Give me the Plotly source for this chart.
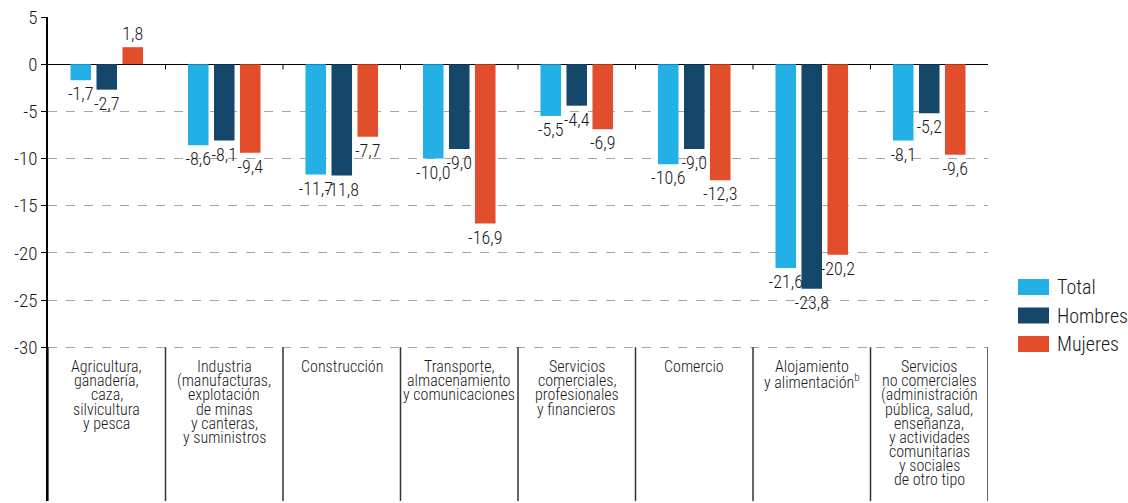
import plotly.graph_objects as go

categories = [
    ["Agricultura,", "ganadería,", "caza,", "silvicultura", "y pesca"],
    ["Industria", "(manufacturas,", "explotación", "de minas", "y canteras,", "y suministros"],
    ["Construcción"],
    ["Transporte,", "almacenamiento", "y comunicaciones"],
    ["Servicios", "comerciales,", "profesionales", "y financieros"],
    ["Comercio"],
    ["Alojamiento", "y alimentación<sup>b</sup>"],
    ["Servicios", "no comerciales", "(administración", "pública, salud,", "enseñanza,", "y actividades",
     "comunitarias", "y sociales", "de otro tipo"],
]
total = [-1.7, -8.6, -11.7, -10.0, -5.5, -10.6, -21.6, -8.1]
hombres = [-2.7, -8.1, -11.8, -9.0, -4.4, -9.0, -23.8, -5.2]
mujeres = [1.8, -9.4, -7.7, -16.9, -6.9, -12.3, -20.2, -9.6]
series_names = ["Total", "Hombres", "Mujeres"]
y_ticks = [5, 0, -5, -10, -15, -20, -25, -30]

colors = ["#22b0e6", "#15476b", "#e24e2c"]
FONT = "Roboto Condensed, Liberation Sans Narrow, Roboto, sans-serif"

W, H = 1128, 503
ML, MR, MT, MB = 48, 140, 17, 2
PW, PH = W - ML - MR, H - MT - MB

x_idx = list(range(len(categories)))
ymin, ymax = -46.3, 5

fig = go.Figure()
for name, vals, col in zip(series_names, [total, hombres, mujeres], colors):
    fig.add_trace(go.Bar(
        x=x_idx, y=vals, name=name, marker_color=col,
        marker_line_width=0, showlegend=False,
        texttemplate="%{y:.1f}", textposition="outside",
        textfont=dict(size=18, color="#1a1a1a", family=FONT, weight=300),
        cliponaxis=False, constraintext="none",
    ))

shapes = []
n = len(categories)
for i in range(n + 1):
    b = i - 0.5
    shapes.append(dict(type="line", xref="x", yref="y", x0=b, x1=b, y0=y_ticks[-1], y1=ymin,
                       line=dict(color="#333", width=1.5)))
for i in range(n - 1):
    b = i + 0.5
    shapes.append(dict(type="line", xref="x", yref="y", x0=b, x1=b, y0=0, y1=-0.55,
                       line=dict(color="#000", width=1)))

annotations = []
for i, lines in enumerate(categories):
    for k, line in enumerate(lines):
        annotations.append(dict(
            x=i, y=y_ticks[-1], xref="x", yref="y", text=line, showarrow=False,
            xanchor="center", yanchor="top", yshift=-8 - 14.1 * k,
            font=dict(size=16, color="#1a1a1a", family=FONT, weight=300),
        ))

# custom legend (wide swatches)
def px_x(p):
    return (p - ML) / PW

def px_y(p):
    return (H - MB - p) / PH

for k, (name, col) in enumerate(zip(series_names, colors)):
    top = 279 + 28.5 * k
    shapes.append(dict(type="rect", xref="paper", yref="paper",
                       x0=px_x(1018), x1=px_x(1049), y0=px_y(top + 16), y1=px_y(top),
                       fillcolor=col, line=dict(width=0)))
    annotations.append(dict(x=px_x(1055), y=px_y(top + 8), xref="paper", yref="paper",
                            text=name, showarrow=False, xanchor="left", yanchor="middle",
                            font=dict(size=20, color="#1a1a1a", family=FONT, weight=300)))

fig.update_layout(
    width=W, height=H, autosize=False,
    margin=dict(l=ML, r=MR, t=MT, b=MB),
    plot_bgcolor="white", paper_bgcolor="white",
    separators=",.",
    barmode="group", bargap=0.336, bargroupgap=0.21,
    font=dict(family=FONT, color="#1a1a1a"),
    showlegend=False,
    xaxis=dict(range=[-0.5, n - 0.5], showticklabels=False, showgrid=False,
               zeroline=False, showline=False, fixedrange=True),
    yaxis=dict(range=[ymin, ymax], tickvals=y_ticks, ticktext=[str(v) for v in y_ticks],
               showgrid=True, gridcolor="#a6a6a6", griddash="dash", gridwidth=1,
               zeroline=True, zerolinecolor="#000", zerolinewidth=1,
               showline=True, linecolor="#000", linewidth=1.5,
               ticks="outside", ticklen=5, tickcolor="#000",
               tickfont=dict(size=19, color="#1a1a1a", family=FONT, weight=300)),
    shapes=shapes, annotations=annotations,
)

fig.write_html("out.html", config={"displayModeBar": False},
               post_script="document.body.style.margin='0';document.body.style.overflow='hidden';")
